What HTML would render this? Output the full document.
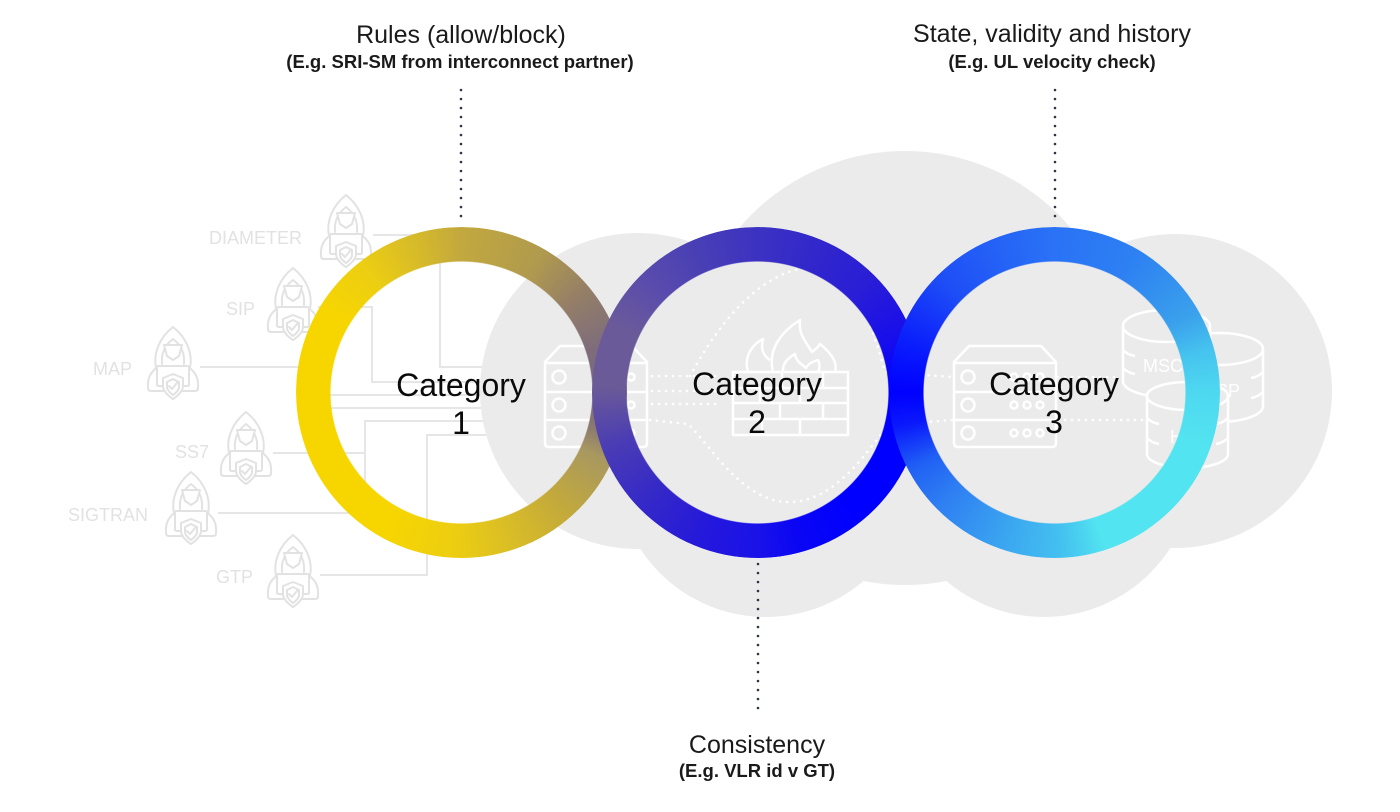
<!DOCTYPE html>
<html><head><meta charset="utf-8"><style>
html,body{margin:0;padding:0;background:#fff}
body{width:1400px;height:812px;position:relative;overflow:hidden;font-family:"Liberation Sans",Arial,sans-serif}
svg{position:absolute;left:0;top:0}
.ring{position:absolute;width:331px;height:331px;top:227px;border-radius:50%;-webkit-mask:radial-gradient(circle,transparent 130.5px,#000 131.5px);mask:radial-gradient(circle,transparent 130.5px,#000 131.5px)}
</style></head><body>
<svg width="1400" height="812" viewBox="0 0 1400 812">
<defs>
<symbol id="hk" viewBox="0 0 56 76">
<g fill="#fff" stroke="#e2e2e2" stroke-width="2" stroke-linejoin="round" stroke-linecap="round">
<path d="M3,64 C2,53 7,46 15,42 L41,42 C49,46 54,53 53,64 Q53,67 50,67 H6 Q3,67 3,64 Z"/>
<path d="M11,44 C8,30 14,14 28,3 C42,14 48,30 45,44 Z"/>
<path d="M17,40 C16,29 20,21 28,15 C36,21 40,29 39,40" fill="none"/>
<path d="M19,21 H37 L34,32 L28,36 L22,32 Z"/>
<rect x="12" y="42" width="32" height="20" rx="1.5"/>
<path d="M18,54 L28,50 L38,54 V62 C38,69 28,75 28,75 C28,75 18,69 18,62 Z"/>
<path d="M22,58 L28,55 L34,58 V63 C34,67 28,71 28,71 C28,71 22,67 22,63 Z" fill="none"/>
<path d="M24,62 L27,65 L32,59" fill="none"/>
</g>
</symbol>
</defs>
<!-- left connectors -->
<g stroke="#e6e6e6" stroke-width="2" fill="none">
<path d="M373,235 H440 V367 H500"/>
<path d="M318,307 H372 V382 H500"/>
<path d="M200,367 H310"/>
<path d="M320,395 H500"/>
<path d="M320,408 H500"/>
<path d="M273,453 H365 M365,513 V421 H500"/>
<path d="M218,513 H365"/>
<path d="M320,575 H427 V435 H500"/>
</g>
<use href="#hk" x="318" y="192" width="56" height="76"/>
<use href="#hk" x="265" y="265" width="56" height="76"/>
<use href="#hk" x="145" y="324" width="56" height="76"/>
<use href="#hk" x="218" y="409" width="56" height="76"/>
<use href="#hk" x="163" y="469" width="56" height="76"/>
<use href="#hk" x="265" y="532" width="56" height="76"/>
<g fill="#e2e2e2" font-size="18" font-family="Liberation Sans, Arial, sans-serif">
<text x="209" y="244">DIAMETER</text>
<text x="226" y="315">SIP</text>
<text x="93" y="375">MAP</text>
<text x="175" y="458">SS7</text>
<text x="68" y="521">SIGTRAN</text>
<text x="216" y="583">GTP</text>
</g>
<!-- cloud -->
<g fill="#ebebeb">
<circle cx="638" cy="391" r="158"/>
<circle cx="905" cy="368" r="217"/>
<circle cx="1175" cy="391" r="157"/>
<circle cx="766" cy="467" r="150"/>
<circle cx="1044" cy="467" r="150"/>
</g>
<!-- white dotted links -->
<g stroke="#fff" stroke-width="2.6" stroke-dasharray="0 7" stroke-linecap="round" fill="none">
<path d="M652,376 H722 M652,391 H722 M652,404 H722"/>
<path d="M690,376 C715,330 755,275 805,268 C850,264 868,310 885,372 L952,377"/>
<path d="M650,420 L688,424 C710,445 740,498 785,502 C830,504 860,462 888,425 L952,420"/>
<path d="M1058,377 H1120 M1058,420 H1145"/>
</g>
<!-- servers -->
<g stroke="#fff" stroke-width="2.5" fill="none" stroke-linejoin="round">
<path d="M549,447 H643 Q647,447 647,443 V362 L632,346 H560 L545,362 V443 Q545,447 549,447 Z"/>
<path d="M545,363 H647 M545,392 H647 M545,420 H647"/>
<circle cx="559" cy="377" r="6.5"/><circle cx="559" cy="405" r="6.5"/><circle cx="559" cy="433" r="6.5"/>
<circle cx="605" cy="377" r="3.5"/><circle cx="618" cy="377" r="3.5"/><circle cx="631" cy="377" r="3.5"/>
<circle cx="605" cy="405" r="3.5"/><circle cx="618" cy="405" r="3.5"/><circle cx="631" cy="405" r="3.5"/>
<circle cx="605" cy="433" r="3.5"/><circle cx="618" cy="433" r="3.5"/><circle cx="631" cy="433" r="3.5"/>
<path d="M958,447 H1052 Q1056,447 1056,443 V362 L1041,346 H969 L954,362 V443 Q954,447 958,447 Z"/>
<path d="M954,363 H1056 M954,392 H1056 M954,420 H1056"/>
<circle cx="968" cy="377" r="6.5"/><circle cx="968" cy="405" r="6.5"/><circle cx="968" cy="433" r="6.5"/>
<circle cx="1014" cy="377" r="3.5"/><circle cx="1027" cy="377" r="3.5"/><circle cx="1040" cy="377" r="3.5"/>
<circle cx="1014" cy="405" r="3.5"/><circle cx="1027" cy="405" r="3.5"/><circle cx="1040" cy="405" r="3.5"/>
<circle cx="1014" cy="433" r="3.5"/><circle cx="1027" cy="433" r="3.5"/><circle cx="1040" cy="433" r="3.5"/>
<!-- firewall -->
<rect x="733" y="372" width="115" height="63"/>
<path d="M733,388 H848 M733,403 H848 M733,419 H848 M782,372 V388 M823,372 V388 M760,388 V403 M800,388 V403 M780,403 V419 M823,403 V419 M762,419 V435 M800,419 V435"/>
<path d="M748,372 C744,358 750,346 763,339 C760,350 764,356 770,360"/>
<path d="M773,372 C768,352 778,334 800,320 C798,334 806,342 812,352 C814,350 818,348 820,344 C830,352 838,362 835,372"/>
<path d="M783,372 C782,364 788,358 795,354 C796,362 802,364 806,368 C808,364 812,362 818,360 C820,364 820,368 818,372"/>
</g>
<!-- cylinders -->
<g stroke="#fff" stroke-width="2.5" fill="#ebebeb">
<path d="M1175,349 V406 A44,16 0 0 0 1263,406 V349 A44,16 0 0 0 1175,349 Z"/>
<ellipse cx="1219" cy="349" rx="44" ry="16"/>
<path d="M1175,372 q5,5 12,6 M1263,372 q-5,5 -12,6 M1175,392 q5,5 12,6 M1263,392 q-5,5 -12,6" fill="none"/>
<path d="M1123,326 V381 A43.5,16 0 0 0 1210,381 V326 A43.5,16 0 0 0 1123,326 Z"/>
<ellipse cx="1166.5" cy="326" rx="43.5" ry="16"/>
<path d="M1123,350 q5,5 12,6 M1210,350 q-5,5 -12,6 M1123,368 q5,5 12,6 M1210,368 q-5,5 -12,6" fill="none"/>
</g>
<g fill="#fff" font-size="18" font-family="Liberation Sans, Arial, sans-serif">
<text x="1143" y="372">MSC</text>
<text x="1204" y="397">SSP</text>
</g>
<g stroke="#fff" stroke-width="2.5" fill="#ebebeb">
<path d="M1147,396 V454 A40.5,14 0 0 0 1228,454 V396 A40.5,14 0 0 0 1147,396 Z"/>
<ellipse cx="1187.5" cy="396" rx="40.5" ry="14"/>
<path d="M1147,418 q5,5 12,6 M1228,418 q-5,5 -12,6 M1147,438 q5,5 12,6 M1228,438 q-5,5 -12,6" fill="none"/>
</g>
<text x="1170" y="443" fill="#fff" font-size="18" font-family="Liberation Sans, Arial, sans-serif">HLR</text>
</svg>

<div class="ring" style="left:295.5px;background:conic-gradient(#c2a83e 0deg,#b09a4e 30deg,#957f66 50deg,#7e6c7c 72deg,#786880 92deg,#8a7a70 105deg,#a89860 115deg,#c4aa3a 140deg,#d8bc28 160deg,#eccd12 182deg,#f7d600 210deg,#f7d600 300deg,#ecce12 322deg,#d4b82c 345deg,#c2a83e 360deg)"></div>
<div class="ring" style="left:592px;background:conic-gradient(#3c32c2 0deg,#3026cc 25deg,#2a1ed6 45deg,#1a10e8 65deg,#0000ff 90deg,#0000ff 140deg,#0a06f4 165deg,#1a12e8 180deg,#2418dc 200deg,#3428c8 225deg,#4a3cb4 250deg,#6a5a98 272deg,#6a5a9a 295deg,#5a4cac 315deg,#4a40b4 335deg,#3c32c2 360deg)"></div>
<div class="ring" style="left:888.5px;background:conic-gradient(#2a72f6 0deg,#2d80f2 30deg,#3aa0ec 60deg,#46c4ef 75deg,#4ed8f0 90deg,#52e4f0 110deg,#52e4f0 162deg,#4ad0f0 170deg,#44c0f0 178deg,#3aa4f0 200deg,#2f80f2 225deg,#2060f4 242deg,#0a18fc 258deg,#0000ff 270deg,#0a1cfc 288deg,#1e4ef6 315deg,#2564f6 340deg,#2a72f6 360deg)"></div>

<svg width="1400" height="812" viewBox="0 0 1400 812">
<g stroke="#2c3446" stroke-width="2.6" stroke-dasharray="0 9" stroke-linecap="round">
<line x1="461" y1="90" x2="461" y2="218"/>
<line x1="1055" y1="90" x2="1055" y2="218"/>
<line x1="758" y1="564" x2="758" y2="712"/>
</g>
<g fill="#0a0a0a" font-size="32" text-anchor="middle" font-family="Liberation Sans, Arial, sans-serif">
<text x="461" y="396">Category</text><text x="461" y="434">1</text>
<text x="757" y="395">Category</text><text x="757" y="433">2</text>
<text x="1054" y="395">Category</text><text x="1054" y="433">3</text>
</g>
<g fill="#1a1a1a" text-anchor="middle" font-family="Liberation Sans, Arial, sans-serif">
<text x="461" y="43" font-size="25">Rules (allow/block)</text>
<text x="460" y="68" font-size="18.5" font-weight="bold">(E.g. SRI-SM from interconnect partner)</text>
<text x="1052" y="42" font-size="25">State, validity and history</text>
<text x="1052" y="68" font-size="18.5" font-weight="bold">(E.g. UL velocity check)</text>
<text x="757" y="753" font-size="25">Consistency</text>
<text x="757" y="777" font-size="18.5" font-weight="bold">(E.g. VLR id v GT)</text>
</g>
</svg>
</body></html>
